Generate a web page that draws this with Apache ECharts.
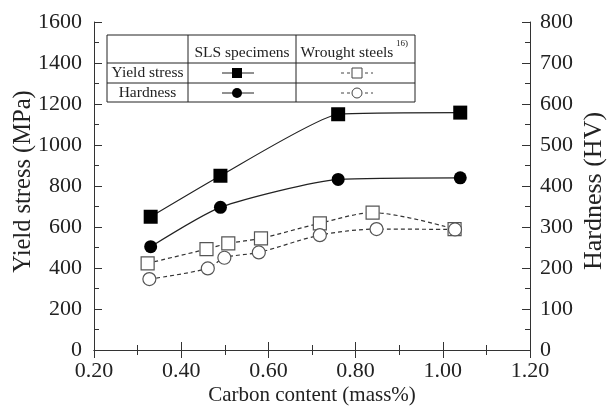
<!DOCTYPE html>
<html><head><meta charset="utf-8">
<script src="https://cdn.jsdelivr.net/npm/echarts@6/dist/echarts.min.js"></script>
<style>html,body{margin:0;padding:0;background:#fff}#c{width:608px;height:409px}</style>
</head><body><div id="c"></div>
<script>
// Data (x = carbon mass%, y = value)
const slsYieldX = [0.33, 0.49, 0.76, 1.04];
const slsYieldY = [650, 850, 1150, 1158];
const slsHardX = [0.33, 0.49, 0.76, 1.04];
const slsHardY = [252, 348, 416, 420];
const wrYieldX = [0.323, 0.458, 0.508, 0.583, 0.718, 0.839, 1.027];
const wrYieldY = [423, 492, 520, 545, 618, 670, 590];
const wrHardX = [0.327, 0.461, 0.499, 0.578, 0.718, 0.848, 1.028];
const wrHardY = [173, 199, 225, 238, 280, 295, 294];
const xTicks = [0.2, 0.4, 0.6, 0.8, 1.0, 1.2];

const zip = (a, b) => a.map((v, i) => [v, b[i]]);
const FONT = 'Liberation Serif';
const chart = echarts.init(document.getElementById('c'));

const axisCommon = {
  axisLine: {show: true, lineStyle: {color: '#333', width: 1}},
  axisTick: {show: true, inside: true, length: 8, lineStyle: {color: '#333'}},
  minorTick: {show: true, splitNumber: 2, length: 5, lineStyle: {color: '#333'}},
  splitLine: {show: false},
  nameMoveOverlap: false,
  axisLabel: {fontFamily: FONT, fontSize: 22, color: '#222'}
};

const gx0 = 94, gx1 = 530;
const L = {x0: 107, x1: 415, c1: 188, c2: 296, y0: 35, y1: 63, y2: 83, y3: 102};
const lineS = {stroke: '#222', lineWidth: 1};
const TF = '15.5px "Liberation Serif"';
const graphics = [
  {type: 'rect', shape: {x: L.x0, y: L.y0, width: L.x1 - L.x0, height: L.y3 - L.y0}, style: {fill: '#fff', stroke: '#222', lineWidth: 1}, z: 100},
  {type: 'line', shape: {x1: L.x0, y1: L.y1, x2: L.x1, y2: L.y1}, style: lineS, z: 101},
  {type: 'line', shape: {x1: L.x0, y1: L.y2, x2: L.x1, y2: L.y2}, style: lineS, z: 101},
  {type: 'line', shape: {x1: L.c1, y1: L.y0, x2: L.c1, y2: L.y3}, style: lineS, z: 101},
  {type: 'line', shape: {x1: L.c2, y1: L.y0, x2: L.c2, y2: L.y3}, style: lineS, z: 101},
  {type: 'text', style: {text: 'SLS specimens', x: (L.c1 + L.c2) / 2, y: 53, align: 'center', verticalAlign: 'middle', font: TF, fill: '#222'}, z: 101},
  {type: 'text', style: {text: 'Wrought steels', x: 347, y: 53, align: 'center', verticalAlign: 'middle', font: TF, fill: '#222'}, z: 101},
  {type: 'text', style: {text: '16)', x: 396, y: 44, align: 'left', verticalAlign: 'middle', font: '9px "Liberation Serif"', fill: '#222'}, z: 101},
  {type: 'text', style: {text: 'Yield stress', x: (L.x0 + L.c1) / 2, y: 73, align: 'center', verticalAlign: 'middle', font: TF, fill: '#222'}, z: 101},
  {type: 'text', style: {text: 'Hardness', x: (L.x0 + L.c1) / 2, y: 92.5, align: 'center', verticalAlign: 'middle', font: TF, fill: '#222'}, z: 101},
  // SLS symbols
  {type: 'line', shape: {x1: 222, y1: 73, x2: 254, y2: 73}, style: lineS, z: 101},
  {type: 'rect', shape: {x: 232, y: 68, width: 10, height: 10}, style: {fill: '#000'}, z: 102},
  {type: 'line', shape: {x1: 222, y1: 93, x2: 254, y2: 93}, style: lineS, z: 101},
  {type: 'circle', shape: {cx: 237, cy: 93, r: 5}, style: {fill: '#000'}, z: 102},
  // Wrought symbols
  {type: 'line', shape: {x1: 341, y1: 73, x2: 373, y2: 73}, style: {stroke: '#444', lineWidth: 1, lineDash: [3, 3]}, z: 101},
  {type: 'rect', shape: {x: 352, y: 68, width: 10, height: 10}, style: {fill: '#fff', stroke: '#444', lineWidth: 1}, z: 102},
  {type: 'line', shape: {x1: 341, y1: 93, x2: 373, y2: 93}, style: {stroke: '#444', lineWidth: 1, lineDash: [3, 3]}, z: 101},
  {type: 'circle', shape: {cx: 357, cy: 93, r: 5}, style: {fill: '#fff', stroke: '#444', lineWidth: 1}, z: 102}
];

chart.setOption({
  animation: false,
  backgroundColor: '#fff',
  grid: {left: gx0, right: 608 - gx1, top: 22, bottom: 59, containLabel: false, outerBoundsMode: 'none'},
  xAxis: [
    Object.assign({}, axisCommon, {
      type: 'value', min: 0.2, max: 1.2, interval: 0.2, position: 'bottom',
      axisLabel: Object.assign({}, axisCommon.axisLabel, {margin: 10, formatter: v => v.toFixed(2)}),
      name: 'Carbon content (mass%)', nameLocation: 'middle', nameGap: 35,
      nameTextStyle: {fontFamily: FONT, fontSize: 21, color: '#222'}
    }),
    Object.assign({}, axisCommon, {
      type: 'value', min: 0.2, max: 1.2, interval: 0.2, position: 'top',
      axisLabel: {show: false}
    })
  ],
  yAxis: [
    Object.assign({}, axisCommon, {
      type: 'value', min: 0, max: 1600, interval: 200, position: 'left',
      axisLabel: Object.assign({}, axisCommon.axisLabel, {margin: 12, formatter: v => String(v)}),
      name: 'Yield stress (MPa)', nameLocation: 'middle', nameGap: 58, nameRotate: 90,
      nameTextStyle: {fontFamily: FONT, fontSize: 24.5, color: '#222', padding: [0, 0, 0, 9]}
    }),
    Object.assign({}, axisCommon, {
      type: 'value', min: 0, max: 800, interval: 100, position: 'right',
      axisLabel: Object.assign({}, axisCommon.axisLabel, {margin: 10, formatter: v => String(v)}),
      name: 'Hardness (HV)', nameLocation: 'middle', nameGap: 51, nameRotate: 90,
      nameTextStyle: {fontFamily: FONT, fontSize: 26, color: '#222', padding: [0, 10, 0, 0]}
    })
  ],
  graphic: graphics,
  series: [
    {type: 'line', yAxisIndex: 0, data: zip(slsYieldX, slsYieldY), smooth: 0.15,
     symbol: 'rect', symbolSize: 14, itemStyle: {color: '#000'},
     lineStyle: {color: '#222', width: 1.2}},
    {type: 'line', yAxisIndex: 1, data: zip(slsHardX, slsHardY), smooth: 0.2,
     symbol: 'circle', symbolSize: 13, itemStyle: {color: '#000'},
     lineStyle: {color: '#222', width: 1.2}},
    {type: 'line', yAxisIndex: 0, data: zip(wrYieldX, wrYieldY), smooth: 0.3,
     symbol: 'rect', symbolSize: 13, itemStyle: {color: '#fff', borderColor: '#555', borderWidth: 1.2},
     lineStyle: {color: '#333', width: 1.2, type: [4, 3]}},
    {type: 'line', yAxisIndex: 1, data: zip(wrHardX, wrHardY), smooth: 0.3,
     symbol: 'circle', symbolSize: 13, itemStyle: {color: '#fff', borderColor: '#555', borderWidth: 1.2},
     lineStyle: {color: '#333', width: 1.2, type: [4, 3]}}
  ]
});
</script></body></html>
